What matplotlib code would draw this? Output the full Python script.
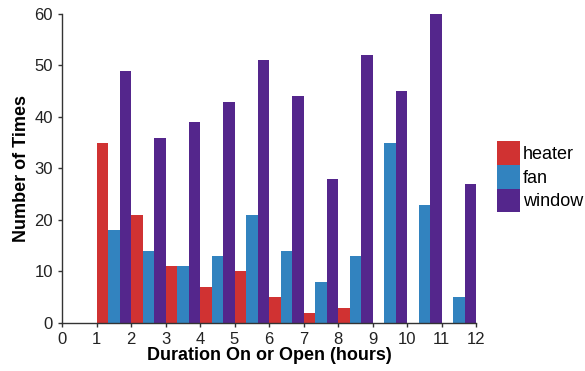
import matplotlib
matplotlib.use("Agg")
import matplotlib.pyplot as plt
import numpy as np

plt.rcParams['font.family'] = ['Liberation Sans', 'DejaVu Sans']

hours = [1, 2, 3, 4, 5, 6, 7, 8, 9, 10, 11]
heater = [35, 21, 11, 7, 10, 5, 2, 3, 0, 0, 0]
fan = [18, 14, 11, 13, 21, 14, 8, 13, 35, 23, 5]
window = [49, 36, 39, 43, 51, 44, 28, 52, 45, 60, 27]
series = [("heater", heater, "#d03232"), ("fan", fan, "#3283bf"), ("window", window, "#54268c")]

fig = plt.figure(figsize=(5.85, 3.71), dpi=100)
ax = fig.add_axes([0.106, 0.1294, 0.7077, 0.833])

w = 1/3
x = np.array(hours, dtype=float)
for i, (name, vals, col) in enumerate(series):
    ax.bar(x + i*w, vals, width=w, align='edge', color=col, label=name,
           linewidth=0)

ax.set_xlim(0, 12)
ax.set_ylim(0, 60)
ax.set_xticks(range(0, 13))
ax.set_yticks(range(0, 61, 10))
for s in ['top', 'right']:
    ax.spines[s].set_visible(False)
for s in ['left', 'bottom']:
    ax.spines[s].set_color('#333333')
    ax.spines[s].set_linewidth(1.0)
ax.tick_params(axis='both', labelsize=12, colors='#333333', labelcolor='#222222',
               length=3, width=1, pad=3.5)
ax.set_xlabel("Duration On or Open (hours)", fontsize=13, fontweight='bold', labelpad=0)
ax.set_ylabel("Number of Times", fontsize=13, fontweight='bold', labelpad=3)

leg = ax.legend(loc='upper left', bbox_to_anchor=(1.051, 0.588), frameon=False,
                fontsize=13, handlelength=1.27, handleheight=1.64, handletextpad=0.15,
                labelspacing=0.0, borderpad=0, borderaxespad=0)

fig.savefig("out.png", dpi=100)
